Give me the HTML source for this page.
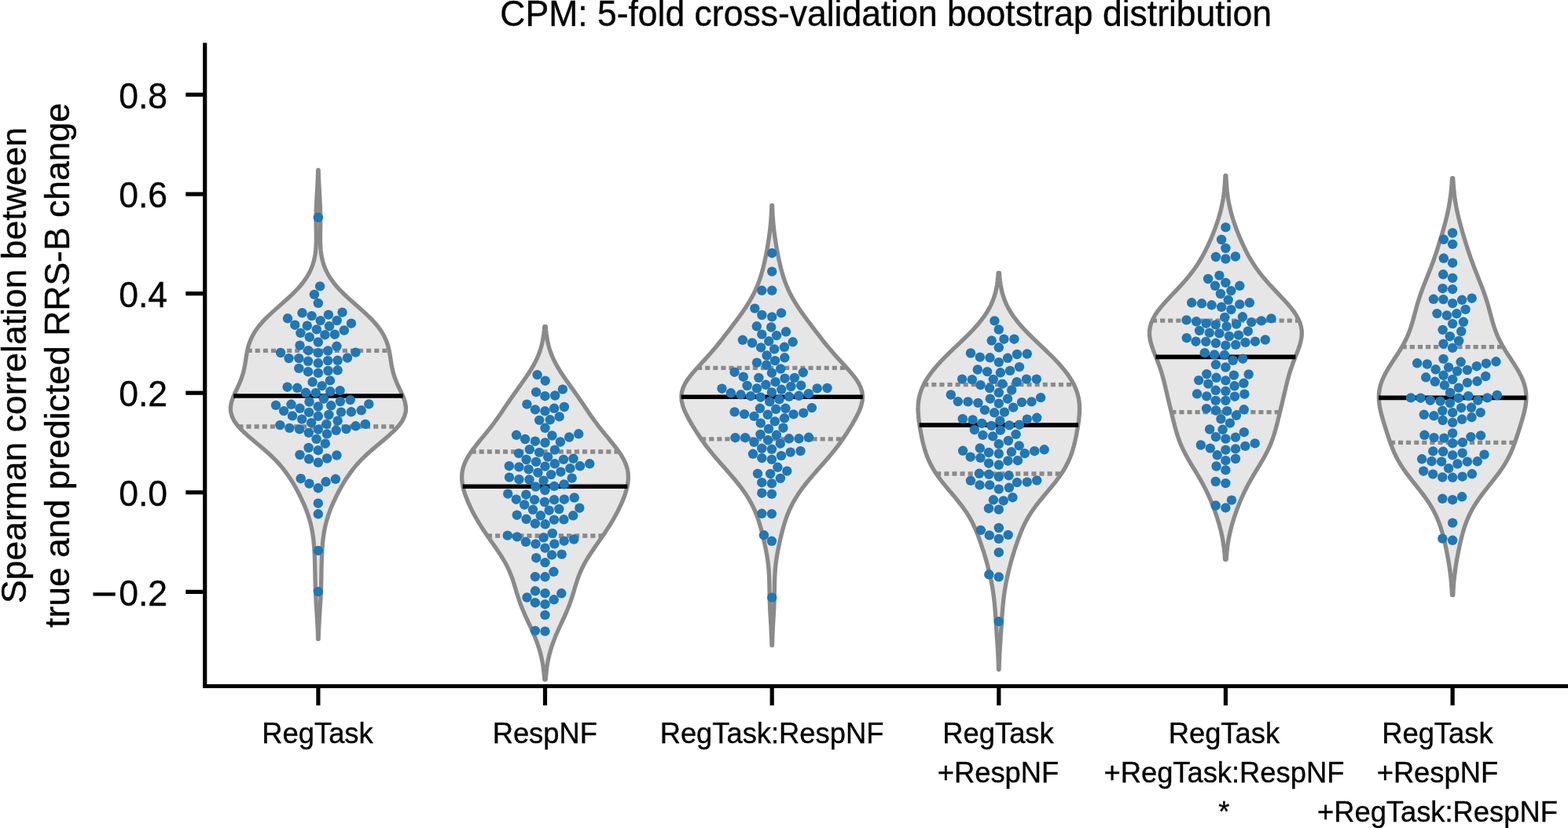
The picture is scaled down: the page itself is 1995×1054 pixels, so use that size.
<!DOCTYPE html>
<html lang="en"><head><meta charset="utf-8"><title>CPM: 5-fold cross-validation bootstrap distribution</title>
<style>html,body{margin:0;padding:0;background:#fff}body{width:1995px;height:1054px;overflow:hidden}svg{display:block}text{font-family:'Liberation Sans', sans-serif;fill:#000;stroke:#000;stroke-width:0.35px}</style></head><body>
<svg width="1995" height="1054" viewBox="0 0 1995 1054" role="img" aria-label="Violin and swarm plot">
<rect width="1995" height="1054" fill="#fff"/>
<g>
<path d="M405.14 216.51 L405.32 222.54 L405.56 228.57 L405.84 234.6 L406.16 240.63 L406.51 246.66 L406.86 252.69 L407.18 258.72 L407.44 264.75 L407.62 270.78 L407.71 276.8 L407.71 282.83 L407.64 288.86 L407.54 294.89 L407.46 300.92 L407.48 306.95 L407.67 312.98 L408.13 319.01 L408.93 325.04 L410.16 331.07 L411.92 337.1 L414.27 343.13 L417.29 349.16 L421.03 355.19 L425.51 361.22 L430.71 367.24 L436.55 373.27 L442.92 379.3 L449.65 385.33 L456.5 391.36 L463.26 397.39 L469.67 403.42 L475.54 409.45 L480.71 415.48 L485.09 421.51 L488.64 427.54 L491.41 433.57 L493.49 439.6 L495.01 445.63 L496.14 451.65 L497.07 457.68 L498.02 463.71 L499.18 469.74 L500.69 475.77 L502.67 481.8 L505.08 487.83 L507.82 493.86 L510.65 499.89 L513.26 505.92 L515.3 511.95 L516.39 517.98 L516.25 524.01 L514.68 530.04 L511.64 536.06 L507.19 542.09 L501.56 548.12 L495.05 554.15 L488 560.18 L480.76 566.21 L473.65 572.24 L466.88 578.27 L460.62 584.3 L454.93 590.33 L449.81 596.36 L445.21 602.39 L441.06 608.42 L437.27 614.45 L433.77 620.48 L430.5 626.5 L427.45 632.53 L424.6 638.56 L421.97 644.59 L419.59 650.62 L417.47 656.65 L415.63 662.68 L414.07 668.71 L412.8 674.74 L411.78 680.77 L410.99 686.8 L410.39 692.83 L409.94 698.86 L409.61 704.89 L409.36 710.91 L409.18 716.94 L409.04 722.97 L408.92 729 L408.81 735.03 L408.68 741.06 L408.52 747.09 L408.31 753.12 L408.05 759.15 L407.73 765.18 L407.36 771.21 L406.97 777.24 L406.58 783.27 L406.2 789.3 L405.86 795.33 L405.57 801.35 L405.33 807.38 L405.14 813.41 L404.66 813.41 L404.47 807.38 L404.23 801.35 L403.94 795.33 L403.6 789.3 L403.22 783.27 L402.83 777.24 L402.44 771.21 L402.07 765.18 L401.75 759.15 L401.49 753.12 L401.28 747.09 L401.12 741.06 L400.99 735.03 L400.88 729 L400.76 722.97 L400.62 716.94 L400.44 710.91 L400.19 704.89 L399.86 698.86 L399.41 692.83 L398.81 686.8 L398.02 680.77 L397 674.74 L395.73 668.71 L394.17 662.68 L392.33 656.65 L390.21 650.62 L387.83 644.59 L385.2 638.56 L382.35 632.53 L379.3 626.5 L376.03 620.48 L372.53 614.45 L368.74 608.42 L364.59 602.39 L359.99 596.36 L354.87 590.33 L349.18 584.3 L342.92 578.27 L336.15 572.24 L329.04 566.21 L321.8 560.18 L314.75 554.15 L308.24 548.12 L302.61 542.09 L298.16 536.06 L295.12 530.04 L293.55 524.01 L293.41 517.98 L294.5 511.95 L296.54 505.92 L299.15 499.89 L301.98 493.86 L304.72 487.83 L307.13 481.8 L309.11 475.77 L310.62 469.74 L311.78 463.71 L312.73 457.68 L313.66 451.65 L314.79 445.63 L316.31 439.6 L318.39 433.57 L321.16 427.54 L324.71 421.51 L329.09 415.48 L334.26 409.45 L340.13 403.42 L346.54 397.39 L353.3 391.36 L360.15 385.33 L366.88 379.3 L373.25 373.27 L379.09 367.24 L384.29 361.22 L388.77 355.19 L392.51 349.16 L395.53 343.13 L397.88 337.1 L399.64 331.07 L400.87 325.04 L401.67 319.01 L402.13 312.98 L402.32 306.95 L402.34 300.92 L402.26 294.89 L402.16 288.86 L402.09 282.83 L402.09 276.8 L402.18 270.78 L402.36 264.75 L402.62 258.72 L402.94 252.69 L403.29 246.66 L403.64 240.63 L403.96 234.6 L404.24 228.57 L404.48 222.54 L404.66 216.51Z" fill="#e6e6e6" stroke="#8a8a8a" stroke-width="5.3" stroke-linejoin="round"/>
<line x1="314.6" y1="446.4" x2="495.2" y2="446.4" stroke="#8a8a8a" stroke-width="5.3" stroke-dasharray="6.1 4"/>
<line x1="303.4" y1="543" x2="506.4" y2="543" stroke="#8a8a8a" stroke-width="5.3" stroke-dasharray="6.1 4"/>
<line x1="297.1" y1="504" x2="512.7" y2="504" stroke="#000" stroke-width="5.6"/>
<g fill="#1f77b4">
<circle cx="404.8" cy="276.8" r="6.2"/>
<circle cx="407.1" cy="364.4" r="6.2"/>
<circle cx="399.9" cy="374.9" r="6.2"/>
<circle cx="404.8" cy="385.9" r="6.2"/>
<circle cx="384.5" cy="398.3" r="6.2"/>
<circle cx="435.5" cy="397.6" r="6.2"/>
<circle cx="396.6" cy="402.1" r="6.2"/>
<circle cx="417.9" cy="400.6" r="6.2"/>
<circle cx="366" cy="405.3" r="6.2"/>
<circle cx="407.7" cy="408.1" r="6.2"/>
<circle cx="428.7" cy="408" r="6.2"/>
<circle cx="446.9" cy="411.7" r="6.2"/>
<circle cx="375.2" cy="413.7" r="6.2"/>
<circle cx="390.8" cy="414.7" r="6.2"/>
<circle cx="419" cy="415.2" r="6.2"/>
<circle cx="402.9" cy="419.4" r="6.2"/>
<circle cx="437.8" cy="420.5" r="6.2"/>
<circle cx="382.4" cy="423.9" r="6.2"/>
<circle cx="413.4" cy="426.2" r="6.2"/>
<circle cx="425.9" cy="425.7" r="6.2"/>
<circle cx="393.8" cy="429.2" r="6.2"/>
<circle cx="404.8" cy="435.5" r="6.2"/>
<circle cx="381.5" cy="439.7" r="6.2"/>
<circle cx="428.4" cy="440.8" r="6.2"/>
<circle cx="392.3" cy="446.2" r="6.2"/>
<circle cx="417.2" cy="446.5" r="6.2"/>
<circle cx="357" cy="449" r="6.2"/>
<circle cx="404.8" cy="449.2" r="6.2"/>
<circle cx="452.5" cy="448.6" r="6.2"/>
<circle cx="367.5" cy="456.1" r="6.2"/>
<circle cx="380.3" cy="456.1" r="6.2"/>
<circle cx="442" cy="455.5" r="6.2"/>
<circle cx="392" cy="459.8" r="6.2"/>
<circle cx="417.2" cy="459.1" r="6.2"/>
<circle cx="429.6" cy="458.8" r="6.2"/>
<circle cx="404.8" cy="462.3" r="6.2"/>
<circle cx="380.3" cy="468.9" r="6.2"/>
<circle cx="429.6" cy="471.3" r="6.2"/>
<circle cx="417.5" cy="472" r="6.2"/>
<circle cx="392" cy="473.2" r="6.2"/>
<circle cx="404.8" cy="474.9" r="6.2"/>
<circle cx="419.9" cy="484.4" r="6.2"/>
<circle cx="397.6" cy="486.3" r="6.2"/>
<circle cx="409.6" cy="491.1" r="6.2"/>
<circle cx="365.6" cy="492.7" r="6.2"/>
<circle cx="378.2" cy="493.8" r="6.2"/>
<circle cx="389" cy="499.8" r="6.2"/>
<circle cx="401.7" cy="500.2" r="6.2"/>
<circle cx="420.2" cy="498.3" r="6.2"/>
<circle cx="432.6" cy="497.1" r="6.2"/>
<circle cx="411.9" cy="507.7" r="6.2"/>
<circle cx="393.5" cy="511.5" r="6.2"/>
<circle cx="432.9" cy="511.1" r="6.2"/>
<circle cx="445.7" cy="509.1" r="6.2"/>
<circle cx="469.3" cy="514.4" r="6.2"/>
<circle cx="351" cy="515.9" r="6.2"/>
<circle cx="370.5" cy="514.8" r="6.2"/>
<circle cx="404.8" cy="517.5" r="6.2"/>
<circle cx="421.2" cy="516.3" r="6.2"/>
<circle cx="381.5" cy="519.8" r="6.2"/>
<circle cx="361.1" cy="523.1" r="6.2"/>
<circle cx="393.1" cy="524.9" r="6.2"/>
<circle cx="434" cy="524.6" r="6.2"/>
<circle cx="446.9" cy="524.3" r="6.2"/>
<circle cx="459.7" cy="522.3" r="6.2"/>
<circle cx="372" cy="529.4" r="6.2"/>
<circle cx="404.8" cy="529.8" r="6.2"/>
<circle cx="418.4" cy="528" r="6.2"/>
<circle cx="384.1" cy="533.6" r="6.2"/>
<circle cx="429.6" cy="535.6" r="6.2"/>
<circle cx="396.1" cy="538.1" r="6.2"/>
<circle cx="415.4" cy="539.9" r="6.2"/>
<circle cx="356.3" cy="541.1" r="6.2"/>
<circle cx="464.8" cy="539.9" r="6.2"/>
<circle cx="452.5" cy="542.3" r="6.2"/>
<circle cx="368.3" cy="544.9" r="6.2"/>
<circle cx="381.1" cy="546.4" r="6.2"/>
<circle cx="404.8" cy="546.7" r="6.2"/>
<circle cx="427.7" cy="547.9" r="6.2"/>
<circle cx="440.5" cy="546.1" r="6.2"/>
<circle cx="392.8" cy="550.9" r="6.2"/>
<circle cx="416" cy="552.4" r="6.2"/>
<circle cx="402.6" cy="558.9" r="6.2"/>
<circle cx="413.8" cy="564.7" r="6.2"/>
<circle cx="392.6" cy="570" r="6.2"/>
<circle cx="404.8" cy="573.2" r="6.2"/>
<circle cx="381.5" cy="579" r="6.2"/>
<circle cx="428.4" cy="579.5" r="6.2"/>
<circle cx="393.1" cy="584.3" r="6.2"/>
<circle cx="416.1" cy="583.5" r="6.2"/>
<circle cx="404.8" cy="588.8" r="6.2"/>
<circle cx="382.7" cy="609.2" r="6.2"/>
<circle cx="426.9" cy="609.8" r="6.2"/>
<circle cx="393.5" cy="615.6" r="6.2"/>
<circle cx="414.6" cy="613.3" r="6.2"/>
<circle cx="404.8" cy="621.3" r="6.2"/>
<circle cx="404.8" cy="640.7" r="6.2"/>
<circle cx="404.8" cy="654.3" r="6.2"/>
<circle cx="404.8" cy="700.9" r="6.2"/>
<circle cx="404.8" cy="753.1" r="6.2"/>
</g></g>
<g>
<path d="M694.28 415.72 L694.66 420.25 L695.15 424.79 L695.79 429.33 L696.59 433.87 L697.59 438.41 L698.81 442.95 L700.26 447.49 L701.96 452.02 L703.92 456.56 L706.13 461.1 L708.58 465.64 L711.26 470.18 L714.13 474.72 L717.15 479.26 L720.29 483.79 L723.5 488.33 L726.74 492.87 L729.98 497.41 L733.2 501.95 L736.37 506.49 L739.5 511.03 L742.59 515.56 L745.66 520.1 L748.75 524.64 L751.88 529.18 L755.09 533.72 L758.4 538.26 L761.83 542.8 L765.39 547.34 L769.04 551.87 L772.77 556.41 L776.52 560.95 L780.21 565.49 L783.78 570.03 L787.13 574.57 L790.18 579.11 L792.87 583.64 L795.13 588.18 L796.92 592.72 L798.22 597.26 L799.02 601.8 L799.36 606.34 L799.25 610.88 L798.75 615.41 L797.9 619.95 L796.74 624.49 L795.34 629.03 L793.71 633.57 L791.89 638.11 L789.9 642.65 L787.76 647.18 L785.48 651.72 L783.05 656.26 L780.49 660.8 L777.81 665.34 L775 669.88 L772.08 674.42 L769.05 678.95 L765.95 683.49 L762.8 688.03 L759.62 692.57 L756.45 697.11 L753.34 701.65 L750.34 706.19 L747.47 710.72 L744.8 715.26 L742.33 719.8 L740.09 724.34 L738.08 728.88 L736.28 733.42 L734.67 737.96 L733.19 742.49 L731.8 747.03 L730.45 751.57 L729.08 756.11 L727.64 760.65 L726.11 765.19 L724.46 769.73 L722.69 774.26 L720.8 778.8 L718.82 783.34 L716.76 787.88 L714.67 792.42 L712.58 796.96 L710.51 801.5 L708.51 806.03 L706.59 810.57 L704.78 815.11 L703.11 819.65 L701.57 824.19 L700.19 828.73 L698.96 833.27 L697.89 837.8 L696.97 842.34 L696.19 846.88 L695.54 851.42 L695.01 855.96 L694.59 860.5 L694.25 865.04 L692.75 865.04 L692.41 860.5 L691.99 855.96 L691.46 851.42 L690.81 846.88 L690.03 842.34 L689.11 837.8 L688.04 833.27 L686.81 828.73 L685.43 824.19 L683.89 819.65 L682.22 815.11 L680.41 810.57 L678.49 806.03 L676.49 801.5 L674.42 796.96 L672.33 792.42 L670.24 787.88 L668.18 783.34 L666.2 778.8 L664.31 774.26 L662.54 769.73 L660.89 765.19 L659.36 760.65 L657.92 756.11 L656.55 751.57 L655.2 747.03 L653.81 742.49 L652.33 737.96 L650.72 733.42 L648.92 728.88 L646.91 724.34 L644.67 719.8 L642.2 715.26 L639.53 710.72 L636.66 706.19 L633.66 701.65 L630.55 697.11 L627.38 692.57 L624.2 688.03 L621.05 683.49 L617.95 678.95 L614.92 674.42 L612 669.88 L609.19 665.34 L606.51 660.8 L603.95 656.26 L601.52 651.72 L599.24 647.18 L597.1 642.65 L595.11 638.11 L593.29 633.57 L591.66 629.03 L590.26 624.49 L589.1 619.95 L588.25 615.41 L587.75 610.88 L587.64 606.34 L587.98 601.8 L588.78 597.26 L590.08 592.72 L591.87 588.18 L594.13 583.64 L596.82 579.11 L599.87 574.57 L603.22 570.03 L606.79 565.49 L610.48 560.95 L614.23 556.41 L617.96 551.87 L621.61 547.34 L625.17 542.8 L628.6 538.26 L631.91 533.72 L635.12 529.18 L638.25 524.64 L641.34 520.1 L644.41 515.56 L647.5 511.03 L650.63 506.49 L653.8 501.95 L657.02 497.41 L660.26 492.87 L663.5 488.33 L666.71 483.79 L669.85 479.26 L672.87 474.72 L675.74 470.18 L678.42 465.64 L680.87 461.1 L683.08 456.56 L685.04 452.02 L686.74 447.49 L688.19 442.95 L689.41 438.41 L690.41 433.87 L691.21 429.33 L691.85 424.79 L692.34 420.25 L692.72 415.72Z" fill="#e6e6e6" stroke="#8a8a8a" stroke-width="5.3" stroke-linejoin="round"/>
<line x1="599.6" y1="575" x2="787.4" y2="575" stroke="#8a8a8a" stroke-width="5.3" stroke-dasharray="6.1 4"/>
<line x1="620" y1="682" x2="767" y2="682" stroke="#8a8a8a" stroke-width="5.3" stroke-dasharray="6.1 4"/>
<line x1="588.7" y1="619.2" x2="798.3" y2="619.2" stroke="#000" stroke-width="5.6"/>
<g fill="#1f77b4">
<circle cx="683.6" cy="477.1" r="6.2"/>
<circle cx="693.7" cy="484.7" r="6.2"/>
<circle cx="715.9" cy="495.6" r="6.2"/>
<circle cx="682.1" cy="499.1" r="6.2"/>
<circle cx="693.4" cy="504.2" r="6.2"/>
<circle cx="706.2" cy="503.5" r="6.2"/>
<circle cx="670.4" cy="514.6" r="6.2"/>
<circle cx="717.9" cy="518" r="6.2"/>
<circle cx="705.1" cy="519.8" r="6.2"/>
<circle cx="680.9" cy="521.4" r="6.2"/>
<circle cx="693.4" cy="523.3" r="6.2"/>
<circle cx="711.7" cy="530.4" r="6.2"/>
<circle cx="686.2" cy="534.9" r="6.2"/>
<circle cx="699.8" cy="534.3" r="6.2"/>
<circle cx="693.5" cy="544.8" r="6.2"/>
<circle cx="657" cy="553.8" r="6.2"/>
<circle cx="736.2" cy="552.3" r="6.2"/>
<circle cx="702.4" cy="554.5" r="6.2"/>
<circle cx="724.2" cy="556.5" r="6.2"/>
<circle cx="668.1" cy="559" r="6.2"/>
<circle cx="712.9" cy="562.5" r="6.2"/>
<circle cx="680.9" cy="561.7" r="6.2"/>
<circle cx="693.5" cy="563.5" r="6.2"/>
<circle cx="673.8" cy="572.1" r="6.2"/>
<circle cx="705.9" cy="572.6" r="6.2"/>
<circle cx="660" cy="577.1" r="6.2"/>
<circle cx="686.2" cy="575.9" r="6.2"/>
<circle cx="697.1" cy="581.6" r="6.2"/>
<circle cx="669.6" cy="585" r="6.2"/>
<circle cx="717" cy="584.9" r="6.2"/>
<circle cx="729.5" cy="583.8" r="6.2"/>
<circle cx="682.1" cy="587.9" r="6.2"/>
<circle cx="705.9" cy="590.3" r="6.2"/>
<circle cx="750.2" cy="590.3" r="6.2"/>
<circle cx="647.8" cy="593.2" r="6.2"/>
<circle cx="660.4" cy="594.4" r="6.2"/>
<circle cx="693.5" cy="593.6" r="6.2"/>
<circle cx="738" cy="593.3" r="6.2"/>
<circle cx="672.6" cy="597.4" r="6.2"/>
<circle cx="725.4" cy="596.2" r="6.2"/>
<circle cx="713.4" cy="600.7" r="6.2"/>
<circle cx="684.4" cy="601.6" r="6.2"/>
<circle cx="701.2" cy="604.1" r="6.2"/>
<circle cx="648" cy="607.6" r="6.2"/>
<circle cx="660.4" cy="610.2" r="6.2"/>
<circle cx="673.5" cy="610.5" r="6.2"/>
<circle cx="691.6" cy="611.7" r="6.2"/>
<circle cx="727.7" cy="608.6" r="6.2"/>
<circle cx="717.7" cy="616.5" r="6.2"/>
<circle cx="681.5" cy="619.5" r="6.2"/>
<circle cx="705.1" cy="618.9" r="6.2"/>
<circle cx="693.4" cy="624" r="6.2"/>
<circle cx="646.2" cy="628.6" r="6.2"/>
<circle cx="669.3" cy="629.7" r="6.2"/>
<circle cx="656.8" cy="635.7" r="6.2"/>
<circle cx="680.1" cy="636.2" r="6.2"/>
<circle cx="705.1" cy="636.2" r="6.2"/>
<circle cx="717.9" cy="635.7" r="6.2"/>
<circle cx="730.7" cy="633.5" r="6.2"/>
<circle cx="692.9" cy="639" r="6.2"/>
<circle cx="667.2" cy="642.5" r="6.2"/>
<circle cx="737.3" cy="646.7" r="6.2"/>
<circle cx="711.3" cy="648" r="6.2"/>
<circle cx="678" cy="648.8" r="6.2"/>
<circle cx="698.6" cy="649.7" r="6.2"/>
<circle cx="657.7" cy="655.7" r="6.2"/>
<circle cx="687.8" cy="656.3" r="6.2"/>
<circle cx="729.2" cy="656.3" r="6.2"/>
<circle cx="669.6" cy="660.8" r="6.2"/>
<circle cx="705" cy="661.6" r="6.2"/>
<circle cx="717.4" cy="661.3" r="6.2"/>
<circle cx="680.9" cy="666.5" r="6.2"/>
<circle cx="693.7" cy="667.3" r="6.2"/>
<circle cx="702.8" cy="678.9" r="6.2"/>
<circle cx="645.7" cy="681.6" r="6.2"/>
<circle cx="658" cy="683.4" r="6.2"/>
<circle cx="691.6" cy="684.3" r="6.2"/>
<circle cx="730.2" cy="686.5" r="6.2"/>
<circle cx="669" cy="689.8" r="6.2"/>
<circle cx="717.7" cy="688.6" r="6.2"/>
<circle cx="681.5" cy="692.4" r="6.2"/>
<circle cx="705.4" cy="692.4" r="6.2"/>
<circle cx="693.5" cy="697.6" r="6.2"/>
<circle cx="702.1" cy="706.4" r="6.2"/>
<circle cx="714.7" cy="705.6" r="6.2"/>
<circle cx="682.2" cy="710.2" r="6.2"/>
<circle cx="693.5" cy="716.1" r="6.2"/>
<circle cx="704.4" cy="727.8" r="6.2"/>
<circle cx="680.9" cy="734.1" r="6.2"/>
<circle cx="693.5" cy="734.3" r="6.2"/>
<circle cx="681" cy="752.3" r="6.2"/>
<circle cx="693.5" cy="755.2" r="6.2"/>
<circle cx="714.3" cy="755.3" r="6.2"/>
<circle cx="670.5" cy="760.5" r="6.2"/>
<circle cx="704.7" cy="763.3" r="6.2"/>
<circle cx="680.9" cy="767.2" r="6.2"/>
<circle cx="693.5" cy="769.2" r="6.2"/>
<circle cx="693.5" cy="782.9" r="6.2"/>
<circle cx="680.9" cy="802.9" r="6.2"/>
<circle cx="693.5" cy="803.6" r="6.2"/>
</g></g>
<g>
<path d="M982.51 261.46 L982.73 267.12 L983.01 272.77 L983.38 278.43 L983.85 284.08 L984.4 289.74 L985.06 295.39 L985.81 301.05 L986.64 306.7 L987.56 312.36 L988.55 318.01 L989.62 323.67 L990.77 329.32 L992.01 334.98 L993.37 340.63 L994.87 346.29 L996.55 351.94 L998.44 357.6 L1000.59 363.26 L1003.02 368.91 L1005.76 374.57 L1008.81 380.22 L1012.16 385.88 L1015.79 391.53 L1019.66 397.19 L1023.71 402.84 L1027.88 408.5 L1032.13 414.15 L1036.43 419.81 L1040.76 425.46 L1045.14 431.12 L1049.61 436.77 L1054.22 442.43 L1059.01 448.08 L1064 453.74 L1069.16 459.39 L1074.39 465.05 L1079.54 470.7 L1084.41 476.36 L1088.78 482.01 L1092.42 487.67 L1095.16 493.32 L1096.87 498.98 L1097.51 504.63 L1097.14 510.29 L1095.87 515.94 L1093.88 521.6 L1091.32 527.25 L1088.38 532.91 L1085.18 538.56 L1081.79 544.22 L1078.25 549.87 L1074.56 555.53 L1070.67 561.18 L1066.56 566.84 L1062.21 572.49 L1057.62 578.15 L1052.84 583.8 L1047.9 589.46 L1042.89 595.11 L1037.89 600.77 L1032.98 606.42 L1028.22 612.08 L1023.69 617.73 L1019.44 623.39 L1015.51 629.05 L1011.93 634.7 L1008.71 640.36 L1005.84 646.01 L1003.32 651.67 L1001.09 657.32 L999.13 662.98 L997.39 668.63 L995.8 674.29 L994.35 679.94 L992.99 685.6 L991.71 691.25 L990.51 696.91 L989.41 702.56 L988.42 708.22 L987.57 713.87 L986.87 719.53 L986.34 725.18 L985.95 730.84 L985.69 736.49 L985.53 742.15 L985.43 747.8 L985.35 753.46 L985.24 759.11 L985.1 764.77 L984.9 770.42 L984.65 776.08 L984.35 781.73 L984.02 787.39 L983.69 793.04 L983.37 798.7 L983.07 804.35 L982.82 810.01 L982.61 815.66 L982.44 821.32 L981.96 821.32 L981.79 815.66 L981.58 810.01 L981.33 804.35 L981.03 798.7 L980.71 793.04 L980.38 787.39 L980.05 781.73 L979.75 776.08 L979.5 770.42 L979.3 764.77 L979.16 759.11 L979.05 753.46 L978.97 747.8 L978.87 742.15 L978.71 736.49 L978.45 730.84 L978.06 725.18 L977.53 719.53 L976.83 713.87 L975.98 708.22 L974.99 702.56 L973.89 696.91 L972.69 691.25 L971.41 685.6 L970.05 679.94 L968.6 674.29 L967.01 668.63 L965.27 662.98 L963.31 657.32 L961.08 651.67 L958.56 646.01 L955.69 640.36 L952.47 634.7 L948.89 629.05 L944.96 623.39 L940.71 617.73 L936.18 612.08 L931.42 606.42 L926.51 600.77 L921.51 595.11 L916.5 589.46 L911.56 583.8 L906.78 578.15 L902.19 572.49 L897.84 566.84 L893.73 561.18 L889.84 555.53 L886.15 549.87 L882.61 544.22 L879.22 538.56 L876.02 532.91 L873.08 527.25 L870.52 521.6 L868.53 515.94 L867.26 510.29 L866.89 504.63 L867.53 498.98 L869.24 493.32 L871.98 487.67 L875.62 482.01 L879.99 476.36 L884.86 470.7 L890.01 465.05 L895.24 459.39 L900.4 453.74 L905.39 448.08 L910.18 442.43 L914.79 436.77 L919.26 431.12 L923.64 425.46 L927.97 419.81 L932.27 414.15 L936.52 408.5 L940.69 402.84 L944.74 397.19 L948.61 391.53 L952.24 385.88 L955.59 380.22 L958.64 374.57 L961.38 368.91 L963.81 363.26 L965.96 357.6 L967.85 351.94 L969.53 346.29 L971.03 340.63 L972.39 334.98 L973.63 329.32 L974.78 323.67 L975.85 318.01 L976.84 312.36 L977.76 306.7 L978.59 301.05 L979.34 295.39 L980 289.74 L980.55 284.08 L981.02 278.43 L981.39 272.77 L981.67 267.12 L981.89 261.46Z" fill="#e6e6e6" stroke="#8a8a8a" stroke-width="5.3" stroke-linejoin="round"/>
<line x1="887.1" y1="468.3" x2="1077.3" y2="468.3" stroke="#8a8a8a" stroke-width="5.3" stroke-dasharray="6.1 4"/>
<line x1="892.1" y1="558.8" x2="1072.3" y2="558.8" stroke="#8a8a8a" stroke-width="5.3" stroke-dasharray="6.1 4"/>
<line x1="866.6" y1="505.3" x2="1097.8" y2="505.3" stroke="#000" stroke-width="5.6"/>
<g fill="#1f77b4">
<circle cx="982.2" cy="322.2" r="6.2"/>
<circle cx="982.2" cy="345.6" r="6.2"/>
<circle cx="969.3" cy="369.8" r="6.2"/>
<circle cx="982.2" cy="369.8" r="6.2"/>
<circle cx="960.3" cy="392.6" r="6.2"/>
<circle cx="994" cy="398.4" r="6.2"/>
<circle cx="969.4" cy="401" r="6.2"/>
<circle cx="982.2" cy="403.4" r="6.2"/>
<circle cx="962.8" cy="415.3" r="6.2"/>
<circle cx="981.2" cy="416.5" r="6.2"/>
<circle cx="1000" cy="422.3" r="6.2"/>
<circle cx="969.3" cy="425.6" r="6.2"/>
<circle cx="988.1" cy="427.1" r="6.2"/>
<circle cx="944.9" cy="432.8" r="6.2"/>
<circle cx="978.2" cy="434.3" r="6.2"/>
<circle cx="1008.7" cy="435.3" r="6.2"/>
<circle cx="957" cy="436.5" r="6.2"/>
<circle cx="968.1" cy="442.4" r="6.2"/>
<circle cx="997.9" cy="441.8" r="6.2"/>
<circle cx="985.2" cy="444.4" r="6.2"/>
<circle cx="975.6" cy="452.5" r="6.2"/>
<circle cx="998.3" cy="455.3" r="6.2"/>
<circle cx="986.1" cy="459.1" r="6.2"/>
<circle cx="963" cy="461.7" r="6.2"/>
<circle cx="975.2" cy="464.7" r="6.2"/>
<circle cx="993.2" cy="469.5" r="6.2"/>
<circle cx="934.6" cy="473.7" r="6.2"/>
<circle cx="981.9" cy="474.7" r="6.2"/>
<circle cx="1021.8" cy="474.1" r="6.2"/>
<circle cx="945.8" cy="479.7" r="6.2"/>
<circle cx="965.4" cy="480.9" r="6.2"/>
<circle cx="998.5" cy="481.7" r="6.2"/>
<circle cx="1010.9" cy="480.9" r="6.2"/>
<circle cx="986.6" cy="486.2" r="6.2"/>
<circle cx="974.4" cy="489.8" r="6.2"/>
<circle cx="950.6" cy="491" r="6.2"/>
<circle cx="1019.2" cy="490.7" r="6.2"/>
<circle cx="1006.4" cy="492" r="6.2"/>
<circle cx="918.5" cy="494.7" r="6.2"/>
<circle cx="963" cy="494.4" r="6.2"/>
<circle cx="1039.7" cy="494.4" r="6.2"/>
<circle cx="1052.5" cy="494" r="6.2"/>
<circle cx="994.3" cy="495.8" r="6.2"/>
<circle cx="929.9" cy="500.3" r="6.2"/>
<circle cx="981.9" cy="499.4" r="6.2"/>
<circle cx="1028.8" cy="501.2" r="6.2"/>
<circle cx="942.5" cy="502.3" r="6.2"/>
<circle cx="1016.5" cy="503.8" r="6.2"/>
<circle cx="955.2" cy="504.2" r="6.2"/>
<circle cx="1003.9" cy="504.8" r="6.2"/>
<circle cx="967.8" cy="505.7" r="6.2"/>
<circle cx="991.5" cy="508.3" r="6.2"/>
<circle cx="979.2" cy="511.3" r="6.2"/>
<circle cx="1032.9" cy="519.1" r="6.2"/>
<circle cx="966.9" cy="519.8" r="6.2"/>
<circle cx="999.4" cy="519.8" r="6.2"/>
<circle cx="987.2" cy="520.8" r="6.2"/>
<circle cx="934.6" cy="524.4" r="6.2"/>
<circle cx="1022.2" cy="525.6" r="6.2"/>
<circle cx="947" cy="527.1" r="6.2"/>
<circle cx="1009.6" cy="527.4" r="6.2"/>
<circle cx="976.8" cy="527.8" r="6.2"/>
<circle cx="959.5" cy="529.9" r="6.2"/>
<circle cx="998" cy="532.3" r="6.2"/>
<circle cx="985.8" cy="536.4" r="6.2"/>
<circle cx="967.8" cy="538.6" r="6.2"/>
<circle cx="996.4" cy="544.7" r="6.2"/>
<circle cx="978" cy="545.9" r="6.2"/>
<circle cx="935.5" cy="557.2" r="6.2"/>
<circle cx="948.2" cy="557.2" r="6.2"/>
<circle cx="967.5" cy="553" r="6.2"/>
<circle cx="987.9" cy="553.8" r="6.2"/>
<circle cx="1003.9" cy="558.3" r="6.2"/>
<circle cx="1016.5" cy="558.3" r="6.2"/>
<circle cx="1029" cy="556.8" r="6.2"/>
<circle cx="977.1" cy="560.2" r="6.2"/>
<circle cx="959.5" cy="562.8" r="6.2"/>
<circle cx="992.8" cy="564.7" r="6.2"/>
<circle cx="969.3" cy="570.8" r="6.2"/>
<circle cx="981.9" cy="571.8" r="6.2"/>
<circle cx="1018.5" cy="574.1" r="6.2"/>
<circle cx="1005.7" cy="575.6" r="6.2"/>
<circle cx="958" cy="577.8" r="6.2"/>
<circle cx="994" cy="580.1" r="6.2"/>
<circle cx="969.3" cy="583.1" r="6.2"/>
<circle cx="981.9" cy="584.9" r="6.2"/>
<circle cx="989.4" cy="594.8" r="6.2"/>
<circle cx="1001.3" cy="599.6" r="6.2"/>
<circle cx="964" cy="602.9" r="6.2"/>
<circle cx="980.1" cy="603.1" r="6.2"/>
<circle cx="992.9" cy="608.9" r="6.2"/>
<circle cx="969.3" cy="614.2" r="6.2"/>
<circle cx="981.9" cy="615.4" r="6.2"/>
<circle cx="969.3" cy="627.7" r="6.2"/>
<circle cx="981.9" cy="628.9" r="6.2"/>
<circle cx="969.3" cy="653.8" r="6.2"/>
<circle cx="981.9" cy="654.1" r="6.2"/>
<circle cx="972" cy="681.3" r="6.2"/>
<circle cx="981.9" cy="688.8" r="6.2"/>
<circle cx="982.2" cy="760.6" r="6.2"/>
</g></g>
<g>
<path d="M1271.47 347.31 L1271.85 352.41 L1272.38 357.51 L1273.09 362.61 L1274.02 367.71 L1275.22 372.81 L1276.72 377.91 L1278.57 383.01 L1280.79 388.11 L1283.42 393.21 L1286.47 398.31 L1289.93 403.41 L1293.81 408.51 L1298.06 413.61 L1302.66 418.71 L1307.55 423.81 L1312.66 428.91 L1317.93 434.01 L1323.29 439.11 L1328.65 444.21 L1333.95 449.31 L1339.1 454.41 L1344.06 459.51 L1348.75 464.62 L1353.12 469.72 L1357.14 474.82 L1360.75 479.92 L1363.93 485.02 L1366.65 490.12 L1368.91 495.22 L1370.7 500.32 L1372.03 505.42 L1372.92 510.52 L1373.42 515.62 L1373.56 520.72 L1373.39 525.82 L1372.99 530.92 L1372.4 536.02 L1371.66 541.12 L1370.82 546.22 L1369.9 551.32 L1368.9 556.42 L1367.79 561.52 L1366.56 566.62 L1365.16 571.72 L1363.54 576.82 L1361.66 581.92 L1359.48 587.02 L1356.97 592.12 L1354.12 597.22 L1350.92 602.32 L1347.39 607.42 L1343.57 612.53 L1339.52 617.63 L1335.3 622.73 L1331 627.83 L1326.71 632.93 L1322.52 638.03 L1318.52 643.13 L1314.77 648.23 L1311.31 653.33 L1308.17 658.43 L1305.34 663.53 L1302.79 668.63 L1300.48 673.73 L1298.37 678.83 L1296.42 683.93 L1294.58 689.03 L1292.82 694.13 L1291.15 699.23 L1289.53 704.33 L1287.99 709.43 L1286.52 714.53 L1285.13 719.63 L1283.82 724.73 L1282.6 729.83 L1281.46 734.93 L1280.41 740.03 L1279.45 745.13 L1278.58 750.23 L1277.81 755.34 L1277.13 760.44 L1276.54 765.54 L1276.03 770.64 L1275.59 775.74 L1275.2 780.84 L1274.85 785.94 L1274.51 791.04 L1274.18 796.14 L1273.85 801.24 L1273.51 806.34 L1273.16 811.44 L1272.81 816.54 L1272.47 821.64 L1272.15 826.74 L1271.86 831.84 L1271.6 836.94 L1271.37 842.04 L1271.19 847.14 L1271.04 852.24 L1270.56 852.24 L1270.41 847.14 L1270.23 842.04 L1270 836.94 L1269.74 831.84 L1269.45 826.74 L1269.13 821.64 L1268.79 816.54 L1268.44 811.44 L1268.09 806.34 L1267.75 801.24 L1267.42 796.14 L1267.09 791.04 L1266.75 785.94 L1266.4 780.84 L1266.01 775.74 L1265.57 770.64 L1265.06 765.54 L1264.47 760.44 L1263.79 755.34 L1263.02 750.23 L1262.15 745.13 L1261.19 740.03 L1260.14 734.93 L1259 729.83 L1257.78 724.73 L1256.47 719.63 L1255.08 714.53 L1253.61 709.43 L1252.07 704.33 L1250.45 699.23 L1248.78 694.13 L1247.02 689.03 L1245.18 683.93 L1243.23 678.83 L1241.12 673.73 L1238.81 668.63 L1236.26 663.53 L1233.43 658.43 L1230.29 653.33 L1226.83 648.23 L1223.08 643.13 L1219.08 638.03 L1214.89 632.93 L1210.6 627.83 L1206.3 622.73 L1202.08 617.63 L1198.03 612.53 L1194.21 607.42 L1190.68 602.32 L1187.48 597.22 L1184.63 592.12 L1182.12 587.02 L1179.94 581.92 L1178.06 576.82 L1176.44 571.72 L1175.04 566.62 L1173.81 561.52 L1172.7 556.42 L1171.7 551.32 L1170.78 546.22 L1169.94 541.12 L1169.2 536.02 L1168.61 530.92 L1168.21 525.82 L1168.04 520.72 L1168.18 515.62 L1168.68 510.52 L1169.57 505.42 L1170.9 500.32 L1172.69 495.22 L1174.95 490.12 L1177.67 485.02 L1180.85 479.92 L1184.46 474.82 L1188.48 469.72 L1192.85 464.62 L1197.54 459.51 L1202.5 454.41 L1207.65 449.31 L1212.95 444.21 L1218.31 439.11 L1223.67 434.01 L1228.94 428.91 L1234.05 423.81 L1238.94 418.71 L1243.54 413.61 L1247.79 408.51 L1251.67 403.41 L1255.13 398.31 L1258.18 393.21 L1260.81 388.11 L1263.03 383.01 L1264.88 377.91 L1266.38 372.81 L1267.58 367.71 L1268.51 362.61 L1269.22 357.51 L1269.75 352.41 L1270.13 347.31Z" fill="#e6e6e6" stroke="#8a8a8a" stroke-width="5.3" stroke-linejoin="round"/>
<line x1="1175.2" y1="489.7" x2="1366.4" y2="489.7" stroke="#8a8a8a" stroke-width="5.3" stroke-dasharray="6.1 4"/>
<line x1="1191.2" y1="603" x2="1350.4" y2="603" stroke="#8a8a8a" stroke-width="5.3" stroke-dasharray="6.1 4"/>
<line x1="1169.6" y1="541.1" x2="1372" y2="541.1" stroke="#000" stroke-width="5.6"/>
<g fill="#1f77b4">
<circle cx="1265.4" cy="408.4" r="6.2"/>
<circle cx="1270.8" cy="419.5" r="6.2"/>
<circle cx="1261.7" cy="433.5" r="6.2"/>
<circle cx="1277.4" cy="431.7" r="6.2"/>
<circle cx="1290.4" cy="431.7" r="6.2"/>
<circle cx="1270.8" cy="442.3" r="6.2"/>
<circle cx="1235" cy="449.5" r="6.2"/>
<circle cx="1294" cy="451" r="6.2"/>
<circle cx="1306.8" cy="450.5" r="6.2"/>
<circle cx="1246.8" cy="454.6" r="6.2"/>
<circle cx="1259.5" cy="455.3" r="6.2"/>
<circle cx="1282.1" cy="455.8" r="6.2"/>
<circle cx="1270.8" cy="461.1" r="6.2"/>
<circle cx="1297" cy="467.1" r="6.2"/>
<circle cx="1243.8" cy="470.5" r="6.2"/>
<circle cx="1285.1" cy="471.9" r="6.2"/>
<circle cx="1256.1" cy="473.1" r="6.2"/>
<circle cx="1272.9" cy="474.3" r="6.2"/>
<circle cx="1224.1" cy="482.6" r="6.2"/>
<circle cx="1236.8" cy="483.2" r="6.2"/>
<circle cx="1263.8" cy="482.9" r="6.2"/>
<circle cx="1306" cy="482.6" r="6.2"/>
<circle cx="1318.8" cy="482.6" r="6.2"/>
<circle cx="1293.7" cy="486.2" r="6.2"/>
<circle cx="1275.3" cy="488.6" r="6.2"/>
<circle cx="1247.5" cy="490.1" r="6.2"/>
<circle cx="1259.1" cy="494.1" r="6.2"/>
<circle cx="1287.2" cy="496.5" r="6.2"/>
<circle cx="1270.8" cy="499.8" r="6.2"/>
<circle cx="1209.8" cy="502.5" r="6.2"/>
<circle cx="1324.1" cy="506.1" r="6.2"/>
<circle cx="1259.8" cy="507.6" r="6.2"/>
<circle cx="1282" cy="507.7" r="6.2"/>
<circle cx="1218.8" cy="511.1" r="6.2"/>
<circle cx="1231.6" cy="511.4" r="6.2"/>
<circle cx="1244.4" cy="512.9" r="6.2"/>
<circle cx="1300" cy="512.1" r="6.2"/>
<circle cx="1312.5" cy="511.4" r="6.2"/>
<circle cx="1270.8" cy="513.6" r="6.2"/>
<circle cx="1289.2" cy="518.6" r="6.2"/>
<circle cx="1252.9" cy="521.9" r="6.2"/>
<circle cx="1265.1" cy="525.3" r="6.2"/>
<circle cx="1277.9" cy="524.6" r="6.2"/>
<circle cx="1224.8" cy="533.2" r="6.2"/>
<circle cx="1306.8" cy="533.6" r="6.2"/>
<circle cx="1319.2" cy="531.8" r="6.2"/>
<circle cx="1237.6" cy="534.4" r="6.2"/>
<circle cx="1272.3" cy="535.6" r="6.2"/>
<circle cx="1249.3" cy="538.9" r="6.2"/>
<circle cx="1284.2" cy="541.4" r="6.2"/>
<circle cx="1297" cy="540.7" r="6.2"/>
<circle cx="1261.4" cy="541.9" r="6.2"/>
<circle cx="1239.8" cy="547.1" r="6.2"/>
<circle cx="1272.9" cy="547.6" r="6.2"/>
<circle cx="1292.6" cy="552.9" r="6.2"/>
<circle cx="1250.4" cy="553.9" r="6.2"/>
<circle cx="1263.2" cy="555.4" r="6.2"/>
<circle cx="1282.9" cy="561" r="6.2"/>
<circle cx="1270.8" cy="565.2" r="6.2"/>
<circle cx="1296.7" cy="567.4" r="6.2"/>
<circle cx="1246.8" cy="570.5" r="6.2"/>
<circle cx="1328.7" cy="572.3" r="6.2"/>
<circle cx="1225.1" cy="573.8" r="6.2"/>
<circle cx="1316.2" cy="574.2" r="6.2"/>
<circle cx="1258" cy="576" r="6.2"/>
<circle cx="1286.9" cy="575.3" r="6.2"/>
<circle cx="1270.8" cy="577.5" r="6.2"/>
<circle cx="1303.8" cy="577.2" r="6.2"/>
<circle cx="1234.7" cy="581.7" r="6.2"/>
<circle cx="1247.4" cy="582.9" r="6.2"/>
<circle cx="1282.4" cy="586.7" r="6.2"/>
<circle cx="1294.9" cy="586.2" r="6.2"/>
<circle cx="1258" cy="589.7" r="6.2"/>
<circle cx="1270.8" cy="591.8" r="6.2"/>
<circle cx="1245.9" cy="602.8" r="6.2"/>
<circle cx="1258.3" cy="603.8" r="6.2"/>
<circle cx="1283.5" cy="605.3" r="6.2"/>
<circle cx="1270.8" cy="606.8" r="6.2"/>
<circle cx="1235" cy="611.8" r="6.2"/>
<circle cx="1319.2" cy="611.5" r="6.2"/>
<circle cx="1294" cy="614.1" r="6.2"/>
<circle cx="1306.8" cy="613.6" r="6.2"/>
<circle cx="1246.5" cy="617.4" r="6.2"/>
<circle cx="1259.2" cy="617.4" r="6.2"/>
<circle cx="1283.9" cy="620.8" r="6.2"/>
<circle cx="1270.8" cy="622.6" r="6.2"/>
<circle cx="1288.4" cy="633.2" r="6.2"/>
<circle cx="1263.9" cy="636.3" r="6.2"/>
<circle cx="1276.7" cy="637.4" r="6.2"/>
<circle cx="1258" cy="647.2" r="6.2"/>
<circle cx="1270.8" cy="648.6" r="6.2"/>
<circle cx="1247.8" cy="674.9" r="6.2"/>
<circle cx="1270.8" cy="672" r="6.2"/>
<circle cx="1258.8" cy="681.4" r="6.2"/>
<circle cx="1282.7" cy="680.9" r="6.2"/>
<circle cx="1270.8" cy="685.9" r="6.2"/>
<circle cx="1270.8" cy="703.2" r="6.2"/>
<circle cx="1258.3" cy="731.3" r="6.2"/>
<circle cx="1270.8" cy="734.4" r="6.2"/>
<circle cx="1270.8" cy="791.1" r="6.2"/>
</g></g>
<g>
<path d="M1559.84 223.48 L1560.08 228.42 L1560.38 233.36 L1560.78 238.3 L1561.27 243.23 L1561.88 248.17 L1562.61 253.11 L1563.48 258.05 L1564.49 262.98 L1565.65 267.92 L1566.95 272.86 L1568.4 277.8 L1569.98 282.73 L1571.68 287.67 L1573.5 292.61 L1575.42 297.55 L1577.45 302.49 L1579.59 307.42 L1581.84 312.36 L1584.21 317.3 L1586.74 322.24 L1589.44 327.17 L1592.34 332.11 L1595.46 337.05 L1598.83 341.99 L1602.47 346.92 L1606.37 351.86 L1610.52 356.8 L1614.9 361.74 L1619.46 366.67 L1624.13 371.61 L1628.83 376.55 L1633.47 381.49 L1637.94 386.42 L1642.14 391.36 L1645.94 396.3 L1649.25 401.24 L1651.99 406.17 L1654.08 411.11 L1655.49 416.05 L1656.22 420.99 L1656.29 425.93 L1655.75 430.86 L1654.71 435.8 L1653.26 440.74 L1651.53 445.68 L1649.63 450.61 L1647.66 455.55 L1645.73 460.49 L1643.89 465.43 L1642.18 470.36 L1640.63 475.3 L1639.21 480.24 L1637.91 485.18 L1636.69 490.11 L1635.52 495.05 L1634.37 499.99 L1633.22 504.93 L1632.05 509.86 L1630.87 514.8 L1629.69 519.74 L1628.49 524.68 L1627.3 529.61 L1626.08 534.55 L1624.84 539.49 L1623.55 544.43 L1622.16 549.37 L1620.64 554.3 L1618.95 559.24 L1617.06 564.18 L1614.96 569.12 L1612.62 574.05 L1610.08 578.99 L1607.35 583.93 L1604.48 588.87 L1601.53 593.8 L1598.53 598.74 L1595.56 603.68 L1592.65 608.62 L1589.84 613.55 L1587.16 618.49 L1584.63 623.43 L1582.24 628.37 L1579.99 633.3 L1577.87 638.24 L1575.87 643.18 L1573.99 648.12 L1572.21 653.05 L1570.54 657.99 L1568.97 662.93 L1567.52 667.87 L1566.19 672.81 L1564.99 677.74 L1563.92 682.68 L1562.98 687.62 L1562.18 692.56 L1561.51 697.49 L1560.97 702.43 L1560.52 707.37 L1560.18 712.31 L1558.62 712.31 L1558.28 707.37 L1557.83 702.43 L1557.29 697.49 L1556.62 692.56 L1555.82 687.62 L1554.88 682.68 L1553.81 677.74 L1552.61 672.81 L1551.28 667.87 L1549.83 662.93 L1548.26 657.99 L1546.59 653.05 L1544.81 648.12 L1542.93 643.18 L1540.93 638.24 L1538.81 633.3 L1536.56 628.37 L1534.17 623.43 L1531.64 618.49 L1528.96 613.55 L1526.15 608.62 L1523.24 603.68 L1520.27 598.74 L1517.27 593.8 L1514.32 588.87 L1511.45 583.93 L1508.72 578.99 L1506.18 574.05 L1503.84 569.12 L1501.74 564.18 L1499.85 559.24 L1498.16 554.3 L1496.64 549.37 L1495.25 544.43 L1493.96 539.49 L1492.72 534.55 L1491.5 529.61 L1490.31 524.68 L1489.11 519.74 L1487.93 514.8 L1486.75 509.86 L1485.58 504.93 L1484.43 499.99 L1483.28 495.05 L1482.11 490.11 L1480.89 485.18 L1479.59 480.24 L1478.17 475.3 L1476.62 470.36 L1474.91 465.43 L1473.07 460.49 L1471.14 455.55 L1469.17 450.61 L1467.27 445.68 L1465.54 440.74 L1464.09 435.8 L1463.05 430.86 L1462.51 425.93 L1462.58 420.99 L1463.31 416.05 L1464.72 411.11 L1466.81 406.17 L1469.55 401.24 L1472.86 396.3 L1476.66 391.36 L1480.86 386.42 L1485.33 381.49 L1489.97 376.55 L1494.67 371.61 L1499.34 366.67 L1503.9 361.74 L1508.28 356.8 L1512.43 351.86 L1516.33 346.92 L1519.97 341.99 L1523.34 337.05 L1526.46 332.11 L1529.36 327.17 L1532.06 322.24 L1534.59 317.3 L1536.96 312.36 L1539.21 307.42 L1541.35 302.49 L1543.38 297.55 L1545.3 292.61 L1547.12 287.67 L1548.82 282.73 L1550.4 277.8 L1551.85 272.86 L1553.15 267.92 L1554.31 262.98 L1555.32 258.05 L1556.19 253.11 L1556.92 248.17 L1557.53 243.23 L1558.02 238.3 L1558.42 233.36 L1558.72 228.42 L1558.96 223.48Z" fill="#e6e6e6" stroke="#8a8a8a" stroke-width="5.3" stroke-linejoin="round"/>
<line x1="1466" y1="408.2" x2="1652.8" y2="408.2" stroke="#8a8a8a" stroke-width="5.3" stroke-dasharray="6.1 4"/>
<line x1="1490.3" y1="524.6" x2="1628.5" y2="524.6" stroke="#8a8a8a" stroke-width="5.3" stroke-dasharray="6.1 4"/>
<line x1="1470.4" y1="454.4" x2="1648.4" y2="454.4" stroke="#000" stroke-width="5.6"/>
<g fill="#1f77b4">
<circle cx="1559.4" cy="289.4" r="6.2"/>
<circle cx="1554.1" cy="305" r="6.2"/>
<circle cx="1559.4" cy="316" r="6.2"/>
<circle cx="1546.9" cy="327" r="6.2"/>
<circle cx="1559.4" cy="329.5" r="6.2"/>
<circle cx="1571.9" cy="326.5" r="6.2"/>
<circle cx="1551.4" cy="350.6" r="6.2"/>
<circle cx="1537.1" cy="355" r="6.2"/>
<circle cx="1559.4" cy="359.9" r="6.2"/>
<circle cx="1577.3" cy="363.8" r="6.2"/>
<circle cx="1546" cy="363.8" r="6.2"/>
<circle cx="1566.4" cy="370.1" r="6.2"/>
<circle cx="1552.9" cy="374" r="6.2"/>
<circle cx="1562.7" cy="381.8" r="6.2"/>
<circle cx="1516.2" cy="385.3" r="6.2"/>
<circle cx="1529" cy="386.3" r="6.2"/>
<circle cx="1589.9" cy="385.3" r="6.2"/>
<circle cx="1577.3" cy="387.4" r="6.2"/>
<circle cx="1541.6" cy="388.3" r="6.2"/>
<circle cx="1554.1" cy="390.8" r="6.2"/>
<circle cx="1566.4" cy="394.1" r="6.2"/>
<circle cx="1580.9" cy="403.3" r="6.2"/>
<circle cx="1558.3" cy="403.9" r="6.2"/>
<circle cx="1617.4" cy="405.4" r="6.2"/>
<circle cx="1509.6" cy="407.4" r="6.2"/>
<circle cx="1604.9" cy="408.4" r="6.2"/>
<circle cx="1522.1" cy="409.3" r="6.2"/>
<circle cx="1592.2" cy="410.1" r="6.2"/>
<circle cx="1534.6" cy="411.6" r="6.2"/>
<circle cx="1573.1" cy="412.6" r="6.2"/>
<circle cx="1546.7" cy="413.4" r="6.2"/>
<circle cx="1560.6" cy="415.6" r="6.2"/>
<circle cx="1526.1" cy="420.9" r="6.2"/>
<circle cx="1587.8" cy="421.7" r="6.2"/>
<circle cx="1538.8" cy="423.6" r="6.2"/>
<circle cx="1551.4" cy="424.4" r="6.2"/>
<circle cx="1575.9" cy="426.6" r="6.2"/>
<circle cx="1563.9" cy="428" r="6.2"/>
<circle cx="1509.8" cy="430.2" r="6.2"/>
<circle cx="1609.8" cy="432.5" r="6.2"/>
<circle cx="1521.5" cy="434.7" r="6.2"/>
<circle cx="1534.3" cy="434.9" r="6.2"/>
<circle cx="1597" cy="434.7" r="6.2"/>
<circle cx="1584.5" cy="435.9" r="6.2"/>
<circle cx="1546.9" cy="436.8" r="6.2"/>
<circle cx="1572.2" cy="438.9" r="6.2"/>
<circle cx="1559.4" cy="439.7" r="6.2"/>
<circle cx="1532.8" cy="449.2" r="6.2"/>
<circle cx="1545.1" cy="451.4" r="6.2"/>
<circle cx="1557.9" cy="452" r="6.2"/>
<circle cx="1581.2" cy="456.7" r="6.2"/>
<circle cx="1568.7" cy="458.8" r="6.2"/>
<circle cx="1546.9" cy="464.1" r="6.2"/>
<circle cx="1559.4" cy="467.5" r="6.2"/>
<circle cx="1535.3" cy="476.1" r="6.2"/>
<circle cx="1588.7" cy="476.5" r="6.2"/>
<circle cx="1569.9" cy="477.6" r="6.2"/>
<circle cx="1547.5" cy="480.8" r="6.2"/>
<circle cx="1525.2" cy="484.1" r="6.2"/>
<circle cx="1559.4" cy="484.4" r="6.2"/>
<circle cx="1537.3" cy="488.6" r="6.2"/>
<circle cx="1582.4" cy="487.8" r="6.2"/>
<circle cx="1570.7" cy="491.3" r="6.2"/>
<circle cx="1546.7" cy="496.8" r="6.2"/>
<circle cx="1559.4" cy="497.9" r="6.2"/>
<circle cx="1523" cy="501.4" r="6.2"/>
<circle cx="1583.4" cy="501.7" r="6.2"/>
<circle cx="1535.3" cy="504.4" r="6.2"/>
<circle cx="1571" cy="504.7" r="6.2"/>
<circle cx="1546.7" cy="509.9" r="6.2"/>
<circle cx="1559.4" cy="509.9" r="6.2"/>
<circle cx="1535" cy="520.1" r="6.2"/>
<circle cx="1582.7" cy="521.3" r="6.2"/>
<circle cx="1547" cy="522.5" r="6.2"/>
<circle cx="1561.2" cy="523.2" r="6.2"/>
<circle cx="1572.9" cy="528.8" r="6.2"/>
<circle cx="1553.4" cy="533.3" r="6.2"/>
<circle cx="1564.9" cy="538.6" r="6.2"/>
<circle cx="1539.1" cy="546.5" r="6.2"/>
<circle cx="1555.6" cy="546.8" r="6.2"/>
<circle cx="1582.8" cy="550.2" r="6.2"/>
<circle cx="1546.9" cy="556.2" r="6.2"/>
<circle cx="1572" cy="556.6" r="6.2"/>
<circle cx="1559.4" cy="558.6" r="6.2"/>
<circle cx="1596.7" cy="564.4" r="6.2"/>
<circle cx="1527.8" cy="566.5" r="6.2"/>
<circle cx="1584.3" cy="567.9" r="6.2"/>
<circle cx="1539.8" cy="570.6" r="6.2"/>
<circle cx="1572" cy="571.4" r="6.2"/>
<circle cx="1559.4" cy="572.7" r="6.2"/>
<circle cx="1548.7" cy="579.3" r="6.2"/>
<circle cx="1572" cy="584" r="6.2"/>
<circle cx="1559.4" cy="586.2" r="6.2"/>
<circle cx="1547.6" cy="593.5" r="6.2"/>
<circle cx="1559.4" cy="598.4" r="6.2"/>
<circle cx="1546.7" cy="613" r="6.2"/>
<circle cx="1559.4" cy="615.1" r="6.2"/>
<circle cx="1567" cy="636.6" r="6.2"/>
<circle cx="1546.7" cy="643.5" r="6.2"/>
<circle cx="1559.4" cy="646.4" r="6.2"/>
</g></g>
<g>
<path d="M1848.7 226.71 L1848.99 232.07 L1849.37 237.44 L1849.86 242.8 L1850.45 248.16 L1851.17 253.52 L1852.02 258.89 L1852.99 264.25 L1854.09 269.61 L1855.31 274.97 L1856.63 280.34 L1858.04 285.7 L1859.52 291.06 L1861.05 296.43 L1862.64 301.79 L1864.27 307.15 L1865.95 312.51 L1867.67 317.88 L1869.45 323.24 L1871.3 328.6 L1873.22 333.96 L1875.22 339.33 L1877.28 344.69 L1879.39 350.05 L1881.52 355.41 L1883.65 360.78 L1885.73 366.14 L1887.72 371.5 L1889.61 376.86 L1891.37 382.23 L1892.99 387.59 L1894.51 392.95 L1895.95 398.32 L1897.38 403.68 L1898.85 409.04 L1900.45 414.4 L1902.24 419.77 L1904.29 425.13 L1906.63 430.49 L1909.29 435.85 L1912.25 441.22 L1915.48 446.58 L1918.89 451.94 L1922.41 457.3 L1925.92 462.67 L1929.3 468.03 L1932.45 473.39 L1935.25 478.76 L1937.62 484.12 L1939.5 489.48 L1940.84 494.84 L1941.63 500.21 L1941.9 505.57 L1941.67 510.93 L1941.01 516.29 L1940 521.66 L1938.71 527.02 L1937.24 532.38 L1935.64 537.74 L1933.98 543.11 L1932.28 548.47 L1930.56 553.83 L1928.78 559.19 L1926.92 564.56 L1924.9 569.92 L1922.67 575.28 L1920.18 580.65 L1917.36 586.01 L1914.21 591.37 L1910.72 596.73 L1906.93 602.1 L1902.9 607.46 L1898.69 612.82 L1894.42 618.18 L1890.16 623.55 L1886.03 628.91 L1882.1 634.27 L1878.43 639.63 L1875.08 645 L1872.06 650.36 L1869.37 655.72 L1867 661.09 L1864.92 666.45 L1863.08 671.81 L1861.45 677.17 L1859.98 682.54 L1858.64 687.9 L1857.39 693.26 L1856.24 698.62 L1855.15 703.99 L1854.13 709.35 L1853.19 714.71 L1852.32 720.07 L1851.53 725.44 L1850.84 730.8 L1850.23 736.16 L1849.72 741.52 L1849.3 746.89 L1848.95 752.25 L1848.68 757.61 L1847.52 757.61 L1847.25 752.25 L1846.9 746.89 L1846.48 741.52 L1845.97 736.16 L1845.36 730.8 L1844.67 725.44 L1843.88 720.07 L1843.01 714.71 L1842.07 709.35 L1841.05 703.99 L1839.96 698.62 L1838.81 693.26 L1837.56 687.9 L1836.22 682.54 L1834.75 677.17 L1833.12 671.81 L1831.28 666.45 L1829.2 661.09 L1826.83 655.72 L1824.14 650.36 L1821.12 645 L1817.77 639.63 L1814.1 634.27 L1810.17 628.91 L1806.04 623.55 L1801.78 618.18 L1797.51 612.82 L1793.3 607.46 L1789.27 602.1 L1785.48 596.73 L1781.99 591.37 L1778.84 586.01 L1776.02 580.65 L1773.53 575.28 L1771.3 569.92 L1769.28 564.56 L1767.42 559.19 L1765.64 553.83 L1763.92 548.47 L1762.22 543.11 L1760.56 537.74 L1758.96 532.38 L1757.49 527.02 L1756.2 521.66 L1755.19 516.29 L1754.53 510.93 L1754.3 505.57 L1754.57 500.21 L1755.36 494.84 L1756.7 489.48 L1758.58 484.12 L1760.95 478.76 L1763.75 473.39 L1766.9 468.03 L1770.28 462.67 L1773.79 457.3 L1777.31 451.94 L1780.72 446.58 L1783.95 441.22 L1786.91 435.85 L1789.57 430.49 L1791.91 425.13 L1793.96 419.77 L1795.75 414.4 L1797.35 409.04 L1798.82 403.68 L1800.25 398.32 L1801.69 392.95 L1803.21 387.59 L1804.83 382.23 L1806.59 376.86 L1808.48 371.5 L1810.47 366.14 L1812.55 360.78 L1814.68 355.41 L1816.81 350.05 L1818.92 344.69 L1820.98 339.33 L1822.98 333.96 L1824.9 328.6 L1826.75 323.24 L1828.53 317.88 L1830.25 312.51 L1831.93 307.15 L1833.56 301.79 L1835.15 296.43 L1836.68 291.06 L1838.16 285.7 L1839.57 280.34 L1840.89 274.97 L1842.11 269.61 L1843.21 264.25 L1844.18 258.89 L1845.03 253.52 L1845.75 248.16 L1846.34 242.8 L1846.83 237.44 L1847.21 232.07 L1847.5 226.71Z" fill="#e6e6e6" stroke="#8a8a8a" stroke-width="5.3" stroke-linejoin="round"/>
<line x1="1783.7" y1="441.6" x2="1912.5" y2="441.6" stroke="#8a8a8a" stroke-width="5.3" stroke-dasharray="6.1 4"/>
<line x1="1768.9" y1="563.4" x2="1927.3" y2="563.4" stroke="#8a8a8a" stroke-width="5.3" stroke-dasharray="6.1 4"/>
<line x1="1754" y1="506.4" x2="1942.2" y2="506.4" stroke="#000" stroke-width="5.6"/>
<g fill="#1f77b4">
<circle cx="1848.1" cy="296.5" r="6.2"/>
<circle cx="1836.8" cy="304.8" r="6.2"/>
<circle cx="1848.1" cy="310.9" r="6.2"/>
<circle cx="1836.8" cy="328.8" r="6.2"/>
<circle cx="1848.1" cy="334.7" r="6.2"/>
<circle cx="1836.2" cy="349.3" r="6.2"/>
<circle cx="1848.1" cy="353.9" r="6.2"/>
<circle cx="1835.5" cy="367.2" r="6.2"/>
<circle cx="1848.1" cy="368.1" r="6.2"/>
<circle cx="1872.7" cy="379.7" r="6.2"/>
<circle cx="1823.9" cy="380.8" r="6.2"/>
<circle cx="1836.4" cy="381.1" r="6.2"/>
<circle cx="1860.1" cy="381.8" r="6.2"/>
<circle cx="1848.1" cy="386.1" r="6.2"/>
<circle cx="1864.6" cy="393.9" r="6.2"/>
<circle cx="1828.4" cy="399.1" r="6.2"/>
<circle cx="1853.3" cy="399.3" r="6.2"/>
<circle cx="1840.9" cy="401.5" r="6.2"/>
<circle cx="1861.9" cy="409.8" r="6.2"/>
<circle cx="1848.1" cy="412.1" r="6.2"/>
<circle cx="1835.6" cy="419.9" r="6.2"/>
<circle cx="1859.2" cy="421.8" r="6.2"/>
<circle cx="1844.8" cy="428.2" r="6.2"/>
<circle cx="1856.1" cy="433.9" r="6.2"/>
<circle cx="1836.5" cy="437.6" r="6.2"/>
<circle cx="1848.1" cy="442.9" r="6.2"/>
<circle cx="1836.5" cy="456.9" r="6.2"/>
<circle cx="1858.6" cy="460.8" r="6.2"/>
<circle cx="1903.4" cy="460.3" r="6.2"/>
<circle cx="1803.1" cy="462.3" r="6.2"/>
<circle cx="1890.9" cy="462.7" r="6.2"/>
<circle cx="1815.8" cy="463.5" r="6.2"/>
<circle cx="1878.8" cy="466.2" r="6.2"/>
<circle cx="1843.1" cy="467.6" r="6.2"/>
<circle cx="1826.6" cy="470.3" r="6.2"/>
<circle cx="1866.9" cy="471" r="6.2"/>
<circle cx="1854.1" cy="472.5" r="6.2"/>
<circle cx="1836.5" cy="477.8" r="6.2"/>
<circle cx="1890.2" cy="479" r="6.2"/>
<circle cx="1814.2" cy="480.3" r="6.2"/>
<circle cx="1848.1" cy="483" r="6.2"/>
<circle cx="1879.5" cy="485.3" r="6.2"/>
<circle cx="1825.8" cy="485.8" r="6.2"/>
<circle cx="1866.9" cy="487.1" r="6.2"/>
<circle cx="1837.9" cy="490.3" r="6.2"/>
<circle cx="1855.9" cy="493.6" r="6.2"/>
<circle cx="1845.1" cy="499.9" r="6.2"/>
<circle cx="1904.8" cy="503" r="6.2"/>
<circle cx="1868.2" cy="504.1" r="6.2"/>
<circle cx="1795" cy="506.4" r="6.2"/>
<circle cx="1807.5" cy="506.7" r="6.2"/>
<circle cx="1855.6" cy="506.7" r="6.2"/>
<circle cx="1892.4" cy="506.4" r="6.2"/>
<circle cx="1819.8" cy="509.7" r="6.2"/>
<circle cx="1880.3" cy="509.7" r="6.2"/>
<circle cx="1832.6" cy="510.6" r="6.2"/>
<circle cx="1844.9" cy="513.1" r="6.2"/>
<circle cx="1859.2" cy="519.1" r="6.2"/>
<circle cx="1872" cy="518.8" r="6.2"/>
<circle cx="1835.3" cy="522.8" r="6.2"/>
<circle cx="1848.1" cy="525.2" r="6.2"/>
<circle cx="1883.7" cy="525.1" r="6.2"/>
<circle cx="1811.8" cy="527.8" r="6.2"/>
<circle cx="1824.3" cy="529.3" r="6.2"/>
<circle cx="1872.4" cy="531.2" r="6.2"/>
<circle cx="1860.1" cy="533.8" r="6.2"/>
<circle cx="1835.6" cy="535" r="6.2"/>
<circle cx="1848.1" cy="537.9" r="6.2"/>
<circle cx="1848.1" cy="551.5" r="6.2"/>
<circle cx="1812.4" cy="553.8" r="6.2"/>
<circle cx="1884" cy="554.4" r="6.2"/>
<circle cx="1871.4" cy="556.1" r="6.2"/>
<circle cx="1824.5" cy="557.1" r="6.2"/>
<circle cx="1837.4" cy="557.6" r="6.2"/>
<circle cx="1860.9" cy="563.1" r="6.2"/>
<circle cx="1848.1" cy="564.3" r="6.2"/>
<circle cx="1823.3" cy="574.4" r="6.2"/>
<circle cx="1836.1" cy="574.8" r="6.2"/>
<circle cx="1860.6" cy="576.7" r="6.2"/>
<circle cx="1888.5" cy="578.6" r="6.2"/>
<circle cx="1848.1" cy="579.4" r="6.2"/>
<circle cx="1809.1" cy="584.3" r="6.2"/>
<circle cx="1821.5" cy="587.2" r="6.2"/>
<circle cx="1834.1" cy="587.6" r="6.2"/>
<circle cx="1866.9" cy="587.6" r="6.2"/>
<circle cx="1879.7" cy="587.3" r="6.2"/>
<circle cx="1854.4" cy="590.5" r="6.2"/>
<circle cx="1843.1" cy="596.2" r="6.2"/>
<circle cx="1811.1" cy="599.7" r="6.2"/>
<circle cx="1872.9" cy="603.3" r="6.2"/>
<circle cx="1823.1" cy="603.6" r="6.2"/>
<circle cx="1860.6" cy="606.7" r="6.2"/>
<circle cx="1835.2" cy="607.5" r="6.2"/>
<circle cx="1848.1" cy="607.8" r="6.2"/>
<circle cx="1860.1" cy="632.3" r="6.2"/>
<circle cx="1835.3" cy="634.8" r="6.2"/>
<circle cx="1848.1" cy="636.2" r="6.2"/>
<circle cx="1848.1" cy="665.6" r="6.2"/>
<circle cx="1835.3" cy="685.6" r="6.2"/>
<circle cx="1848.1" cy="687.8" r="6.2"/>
</g></g>
<g stroke="#000" fill="none">
<line x1="260.7" y1="54.4" x2="260.7" y2="876.1" stroke-width="5.2"/>
<line x1="258.1" y1="873.5" x2="1995" y2="873.5" stroke-width="5.2"/>
<line x1="236.3" y1="120.5" x2="260.7" y2="120.5" stroke-width="5.2"/>
<line x1="236.3" y1="247.1" x2="260.7" y2="247.1" stroke-width="5.2"/>
<line x1="236.3" y1="373.7" x2="260.7" y2="373.7" stroke-width="5.2"/>
<line x1="236.3" y1="500.2" x2="260.7" y2="500.2" stroke-width="5.2"/>
<line x1="236.3" y1="626.8" x2="260.7" y2="626.8" stroke-width="5.2"/>
<line x1="236.3" y1="753.4" x2="260.7" y2="753.4" stroke-width="5.2"/>
<line x1="404.9" y1="873.5" x2="404.9" y2="897.9" stroke-width="5.2"/>
<line x1="693.5" y1="873.5" x2="693.5" y2="897.9" stroke-width="5.2"/>
<line x1="982.2" y1="873.5" x2="982.2" y2="897.9" stroke-width="5.2"/>
<line x1="1270.8" y1="873.5" x2="1270.8" y2="897.9" stroke-width="5.2"/>
<line x1="1559.4" y1="873.5" x2="1559.4" y2="897.9" stroke-width="5.2"/>
<line x1="1848.1" y1="873.5" x2="1848.1" y2="897.9" stroke-width="5.2"/>
</g>
<g font-size="44.5" text-anchor="end">
<text transform="translate(213 137.7) scale(1 1.04)">0.8</text>
<text transform="translate(213 264.3) scale(1 1.04)">0.6</text>
<text transform="translate(213 390.9) scale(1 1.04)">0.4</text>
<text transform="translate(213 517.4) scale(1 1.04)">0.2</text>
<text transform="translate(213 644) scale(1 1.04)">0.0</text>
<text transform="translate(213 770.6) scale(1 1.04)"><tspan font-family="'DejaVu Sans', sans-serif">−</tspan>0.2</text>
</g>
<text transform="translate(1127.2 32.8) scale(1 1.02)" font-size="44.5" text-anchor="middle">CPM: 5-fold cross-validation bootstrap distribution</text>
<text transform="translate(32.9 465) rotate(-90) scale(1 1.0)" font-size="44.5" text-anchor="middle">Spearman correlation between</text>
<text transform="translate(88.2 465) rotate(-90) scale(1 1.0)" font-size="44.5" text-anchor="middle">true and predicted RRS-B change</text>
<g font-size="36.35" text-anchor="middle">
<text transform="translate(404 945.9) scale(1 1.03)">RegTask</text>
<text transform="translate(693.3 945.9) scale(1 1.03)">RespNF</text>
<text transform="translate(982 945.9) scale(1 1.03)">RegTask:RespNF</text>
<text transform="translate(1270 945.9) scale(1 1.03)">RegTask</text>
<text transform="translate(1270 995.8) scale(1 1.03)">+RespNF</text>
<text transform="translate(1557.4 945.9) scale(1 1.03)">RegTask</text>
<text transform="translate(1557.4 995.8) scale(1 1.03)">+RegTask:RespNF</text>
<text transform="translate(1557.4 1045.7) scale(1 1.03)">*</text>
<text transform="translate(1828.9 945.9) scale(1 1.03)">RegTask</text>
<text transform="translate(1828.9 995.8) scale(1 1.03)">+RespNF</text>
<text transform="translate(1828.9 1045.7) scale(1 1.03)">+RegTask:RespNF</text>
</g>
</svg></body></html>
